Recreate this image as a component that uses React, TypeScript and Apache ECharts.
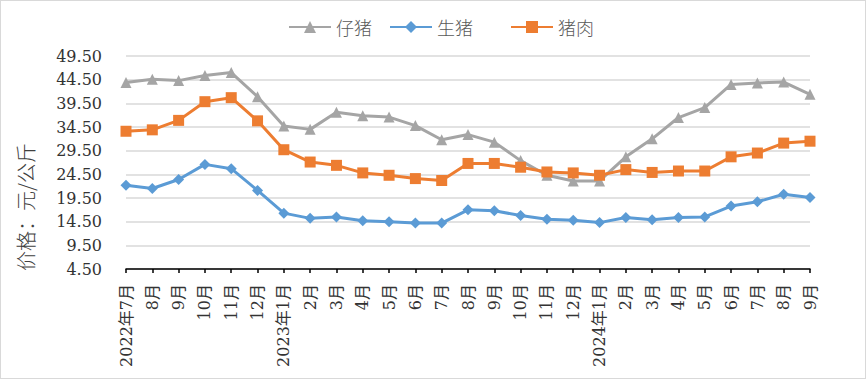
import React, { useEffect, useRef } from 'react';
import * as echarts from 'echarts';

const categories = ['2022年7月', '8月', '9月', '10月', '11月', '12月', '2023年1月', '2月', '3月', '4月', '5月', '6月', '7月', '8月', '9月', '10月', '11月', '12月', '2024年1月', '2月', '3月', '4月', '5月', '6月', '7月', '8月', '9月'];

const piglet = [43.9, 44.6, 44.3, 45.4, 46.0, 40.9, 34.7, 34.0, 37.6, 36.9, 36.6, 34.8, 31.8, 32.9, 31.3, 27.4, 24.3, 23.1, 23.1, 28.2, 32.0, 36.5, 38.6, 43.5, 43.8, 44.0, 41.4];
const hog = [22.2, 21.5, 23.4, 26.6, 25.7, 21.1, 16.3, 15.2, 15.5, 14.7, 14.5, 14.2, 14.2, 17.0, 16.8, 15.8, 15.0, 14.8, 14.3, 15.4, 14.9, 15.4, 15.5, 17.8, 18.7, 20.3, 19.6];
const pork = [33.6, 33.9, 35.9, 39.85, 40.7, 35.8, 29.7, 27.1, 26.4, 24.8, 24.3, 23.6, 23.2, 26.8, 26.8, 26.0, 25.0, 24.8, 24.3, 25.5, 24.9, 25.2, 25.2, 28.2, 29.0, 31.1, 31.5];

const seriesNames = ['仔猪', '生猪', '猪肉'];
const yMin = 4.5;
const yMax = 49.5;
const yStep = 5;
const yAxisTitle = '价格：元/公斤';

const numFont = "'DejaVu Serif', 'Noto Sans CJK SC', serif";
const cjkFont = "'Noto Sans CJK SC', sans-serif";

export default function App() {
  const ref = useRef<HTMLDivElement>(null);
  useEffect(() => {
    const chart = echarts.init(ref.current as HTMLDivElement, null, { renderer: 'svg' });
    const legendCommon = {
      top: 13,
      itemWidth: 42,
      itemHeight: 15,
      itemGap: 0,
      textStyle: { fontSize: 18, color: '#595959', fontFamily: cjkFont, fontWeight: 300 },
    };
    chart.setOption({
      animation: false,
      backgroundColor: 'transparent',
      legend: [
        { ...legendCommon, data: [seriesNames[0]], left: 283 },
        { ...legendCommon, data: [seriesNames[1]], left: 384 },
        { ...legendCommon, data: [seriesNames[2]], left: 505 },
      ],
      grid: { left: 126, right: 56, top: 56, bottom: 110 },
      graphic: [
        {
          type: 'text',
          x: 25,
          y: 207,
          rotation: Math.PI / 2,
          style: {
            text: yAxisTitle,
            fontSize: 20,
            fontFamily: cjkFont,
            fontWeight: 300,
            fill: '#404040',
            align: 'center',
            verticalAlign: 'middle',
          },
        },
      ],
      xAxis: {
        type: 'category',
        data: categories,
        boundaryGap: false,
        axisLine: { show: true, lineStyle: { color: '#000', width: 1.5 } },
        axisTick: { show: true, length: 4, alignWithLabel: true, lineStyle: { color: '#000', width: 1.5 } },
        axisLabel: {
          interval: 0,
          rotate: 90,
          margin: 15,
          fontSize: 16,
          color: '#333',
          fontFamily: numFont,
        },
        splitLine: { show: false },
      },
      yAxis: {
        type: 'value',
        min: yMin,
        max: yMax,
        interval: yStep,
        axisLine: { show: false },
        axisTick: { show: false },
        axisLabel: {
          margin: 24,
          fontSize: 16,
          color: '#333',
          fontFamily: numFont,
          formatter: (v: number) => v.toFixed(2),
        },
        splitLine: { show: true, lineStyle: { color: '#d9d9d9', width: 1.5 } },
      },
      series: [
        {
          name: seriesNames[0],
          type: 'line',
          data: piglet,
          symbol: 'triangle',
          symbolSize: 11,
          lineStyle: { color: '#A5A5A5', width: 3 },
          itemStyle: { color: '#A5A5A5' },
        },
        {
          name: seriesNames[1],
          type: 'line',
          data: hog,
          symbol: 'diamond',
          symbolSize: 11,
          lineStyle: { color: '#5B9BD5', width: 3 },
          itemStyle: { color: '#5B9BD5' },
        },
        {
          name: seriesNames[2],
          type: 'line',
          data: pork,
          symbol: 'rect',
          symbolSize: 11,
          lineStyle: { color: '#ED7D31', width: 3 },
          itemStyle: { color: '#ED7D31' },
        },
      ],
    });
    return () => chart.dispose();
  }, []);
  return (
    <div
      style={{
        position: 'fixed',
        left: 0,
        top: 0,
        width: 866,
        height: 379,
        boxSizing: 'border-box',
        border: '1px solid #d9d9d9',
        background: '#fff',
      }}
    >
      <div ref={ref} style={{ position: 'absolute', left: -1, top: -1, width: 866, height: 379 }} />
    </div>
  );
}
